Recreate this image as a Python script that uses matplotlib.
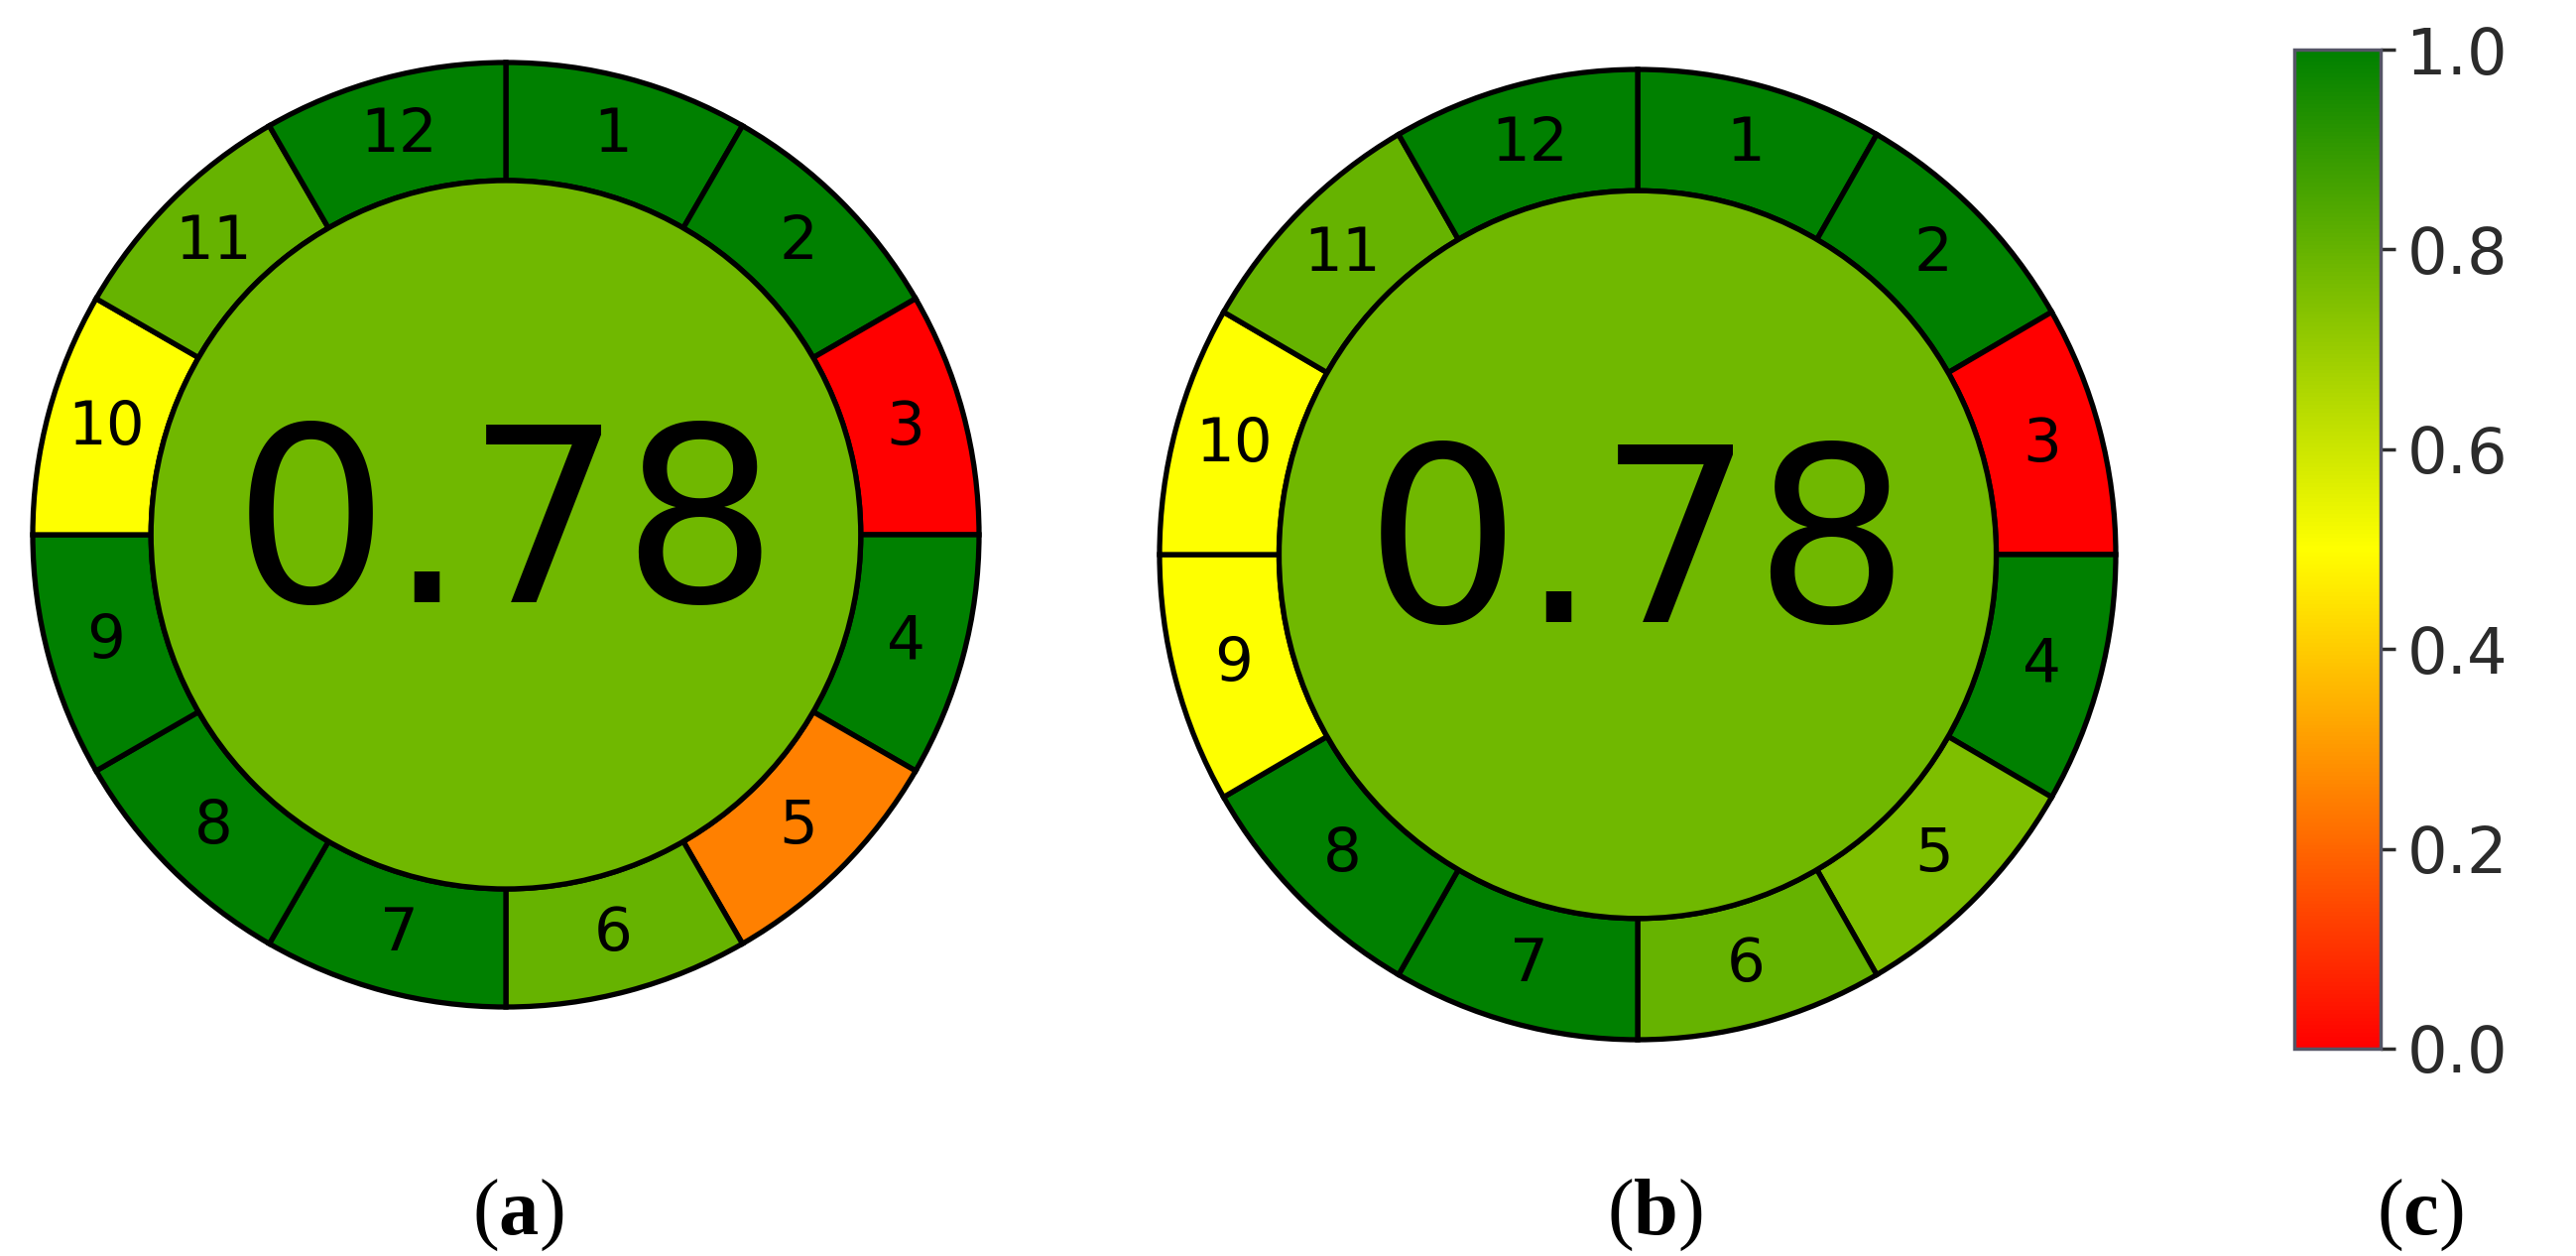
import matplotlib.pyplot as plt
import numpy as np
from matplotlib.colors import LinearSegmentedColormap, Normalize
from matplotlib.cm import ScalarMappable

plt.rcParams['mathtext.fontset'] = 'custom'
plt.rcParams['mathtext.rm'] = 'Liberation Serif'
plt.rcParams['mathtext.bf'] = 'Liberation Serif:bold'

# AGREE scores for the 12 criteria, clockwise from the top
criteria = [str(i) for i in range(1, 13)]
scores_a = [1.0, 1.0, 0.0, 1.0, 0.25, 0.8, 1.0, 1.0, 1.0, 0.5, 0.8, 1.0]
scores_b = [1.0, 1.0, 0.0, 1.0, 0.75, 0.8, 1.0, 1.0, 0.5, 0.5, 0.8, 1.0]
total_a = 0.78
total_b = 0.78
panel_labels = ['a', 'b', 'c']
cbar_ticks = [0.0, 0.2, 0.4, 0.6, 0.8, 1.0]

cmap = LinearSegmentedColormap.from_list('agree', ['#ff0000', '#ffff00', '#008000'])

W, H = 2597, 1266
fig = plt.figure(figsize=(W / 100, H / 100), dpi=100)


def agree(cx, cy, rx, ry, scores, total):
    lim = 1.05
    ax = fig.add_axes([(cx - rx * lim) / W, (H - cy - ry * lim) / H,
                       2 * rx * lim / W, 2 * ry * lim / H])
    wedges, texts = ax.pie([1] * len(scores), labels=criteria,
                           colors=cmap(np.array(scores)),
                           startangle=90, counterclock=False, radius=1,
                           labeldistance=0.875,
                           wedgeprops=dict(width=0.25, edgecolor='black', linewidth=3.8),
                           textprops=dict(fontsize=44))
    for t in texts:
        t.set_ha('center')
        t.set_va('center')
    ax.add_patch(plt.Circle((0, 0), 0.75, facecolor=cmap(total),
                            edgecolor='black', linewidth=3.8))
    ax.text(0, 0, f'{total:.2f}', ha='center', va='center', fontsize=178)
    ax.set_xlim(-lim, lim)
    ax.set_ylim(-lim, lim)
    ax.set_aspect('auto')
    ax.axis('off')
    return ax


agree(510, 539, 477, 476, scores_a, total_a)
agree(1651, 559, 482, 489, scores_b, total_b)

# colour scale
cax = fig.add_axes([2313 / W, (H - 1057) / H, 87 / W, 1007 / H])
cb = fig.colorbar(ScalarMappable(Normalize(0, 1), cmap), cax=cax, ticks=cbar_ticks)
cb.ax.set_yticklabels([f'{t:.1f}' for t in cbar_ticks])
cb.ax.tick_params(labelsize=46, length=11, width=2.5, pad=8, colors='#2b2b2b')
cb.outline.set_linewidth(2.5)
cb.outline.set_edgecolor('#555566')

for lab, x in zip(panel_labels, [522, 1668, 2440]):
    fig.text(x / W, 1 - 1225 / H, r'($\mathbf{' + lab + '}$)', ha='center', va='center',
             fontsize=58, family='Liberation Serif')

fig.savefig('out.png', dpi=100, facecolor='white')
